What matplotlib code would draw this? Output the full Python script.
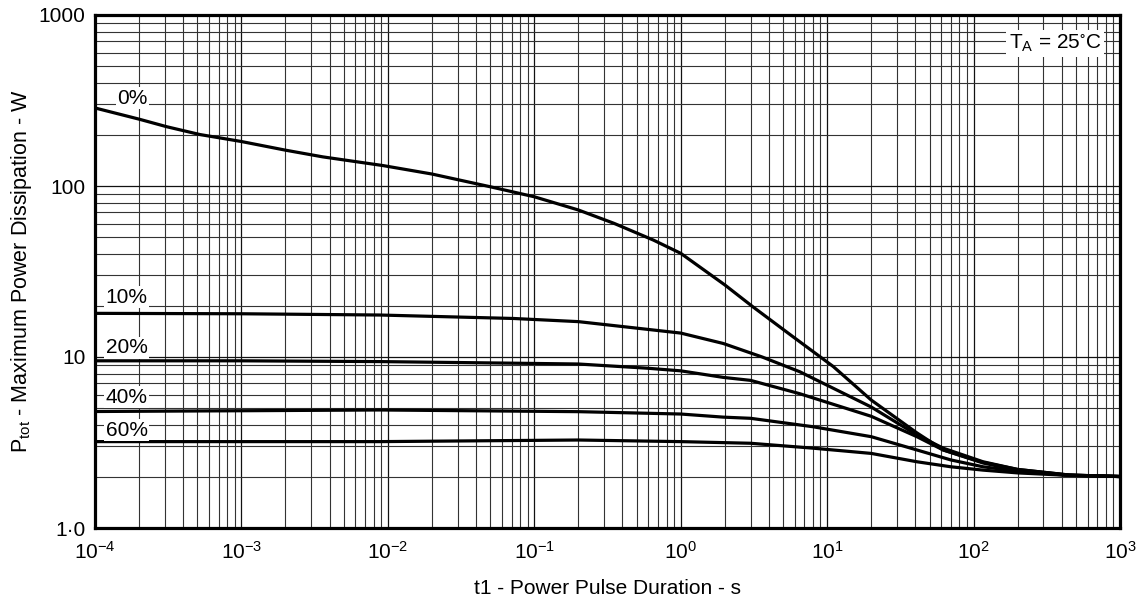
import matplotlib
matplotlib.use("Agg")
import matplotlib.pyplot as plt
from matplotlib.ticker import LogLocator, NullFormatter

plt.rcParams['font.family'] = ['Liberation Sans', 'DejaVu Sans']
plt.rcParams['mathtext.fontset'] = 'custom'
plt.rcParams['mathtext.rm'] = 'Liberation Sans'
plt.rcParams['mathtext.default'] = 'regular'

# ---- data ----
t_0 = [1e-4, 2e-4, 3.1e-4, 5.2e-4, 1e-3, 2e-3, 3.6e-3, 9.3e-3, 0.02, 0.05, 0.1, 0.2, 0.35,
       0.65, 1.0, 2.0, 3.1, 5.8, 11, 20, 41, 62, 116, 198, 435, 1000]
p_0 = [286, 246, 222, 200, 182, 162, 148, 131.6, 117.5, 99, 86.5, 72.4, 60.5,
       48.3, 40.4, 26.4, 19.7, 13.2, 8.8, 5.6, 3.6, 2.86, 2.40, 2.18, 2.04, 2.0]

t_10 = [1e-4, 1e-3, 8.8e-3, 0.072, 0.2, 0.45, 1.0, 1.95, 3.6, 6.5, 20, 41, 62, 116, 200, 450, 1000]
p_10 = [18.0, 17.9, 17.6, 16.8, 16.1, 14.9, 13.8, 12.0, 10.0, 8.2, 5.1, 3.5, 2.93, 2.44, 2.2, 2.04, 2.0]

t_20 = [1e-4, 1e-3, 8.8e-3, 0.072, 0.2, 0.59, 1.0, 1.95, 3.0, 6.5, 20, 41, 62, 116, 200, 450, 1000]
p_20 = [9.5, 9.5, 9.4, 9.2, 9.1, 8.6, 8.3, 7.6, 7.3, 6.1, 4.5, 3.42, 2.86, 2.42, 2.2, 2.04, 2.0]

t_40 = [1e-4, 1e-3, 8.8e-3, 0.2, 1.0, 1.95, 3.0, 8.0, 20, 41, 70, 116, 200, 450, 1000]
p_40 = [4.8, 4.85, 4.9, 4.79, 4.64, 4.45, 4.38, 3.91, 3.42, 2.86, 2.50, 2.28, 2.15, 2.03, 2.0]

t_60 = [1e-4, 1e-3, 8.8e-3, 0.2, 1.0, 3.0, 8.0, 20, 41, 70, 116, 200, 450, 1000]
p_60 = [3.2, 3.2, 3.2, 3.27, 3.2, 3.13, 2.93, 2.73, 2.44, 2.28, 2.18, 2.1, 2.03, 2.0]

series = [(t_0, p_0, '0%'), (t_10, p_10, '10%'), (t_20, p_20, '20%'),
          (t_40, p_40, '40%'), (t_60, p_60, '60%')]

x_ticks = [1e-4, 1e-3, 1e-2, 1e-1, 1, 10, 100, 1000]
x_labels = ['$10^{-4}$', '$10^{-3}$', '$10^{-2}$', '$10^{-1}$', '$10^{0}$', '$10^{1}$', '$10^{2}$', '$10^{3}$']
y_ticks = [1, 10, 100, 1000]
y_labels = ['1·0', '10', '100', '1000']

fig = plt.figure(figsize=(11.43, 6.0), dpi=100)
ax = fig.add_axes([0.0831, 0.12, 0.8968, 0.855])
ax.set_xscale('log')
ax.set_yscale('log')
ax.set_xlim(1e-4, 1e3)
ax.set_ylim(1, 1000)

ax.xaxis.set_minor_locator(LogLocator(base=10, subs=range(2, 10), numticks=50))
ax.yaxis.set_minor_locator(LogLocator(base=10, subs=range(2, 10), numticks=50))
ax.xaxis.set_minor_formatter(NullFormatter())
ax.yaxis.set_minor_formatter(NullFormatter())
ax.grid(True, which='major', color='#111111', lw=0.9)
ax.grid(True, which='minor', color='#333333', lw=0.8)
ax.set_axisbelow(True)

for t, p, lab in series:
    ax.plot(t, p, color='black', lw=2.3, solid_capstyle='butt', zorder=3)

ax.set_xticks(x_ticks)
ax.set_xticklabels(x_labels)
ax.set_yticks(y_ticks)
ax.set_yticklabels(y_labels)
ax.tick_params(which='both', length=0, labelsize=15, pad=7)
ax.tick_params(axis='x', pad=9)

for s in ax.spines.values():
    s.set_linewidth(2.3)
    s.set_zorder(5)

ax.set_xlabel('t1 - Power Pulse Duration - s', fontsize=15, labelpad=12)
ax.set_ylabel('P$_{tot}$ - Maximum Power Dissipation - W', fontsize=15.5, labelpad=3)

box = dict(facecolor='white', edgecolor='none', pad=1.0)
label_pos = {'0%': (1.8e-4, 327), '10%': (1.65e-4, 22.4), '20%': (1.65e-4, 11.3),
             '40%': (1.65e-4, 5.83), '60%': (1.65e-4, 3.74)}
for t, p, lab in series:
    lx, ly = label_pos[lab]
    ax.text(lx, ly, lab, fontsize=15, ha='center', va='center', bbox=box, zorder=4)

ax.text(0.9366, 0.945, 'T$_A$ = 25$^{\\circ}$C', transform=ax.transAxes, fontsize=15,
        ha='center', va='center', bbox=dict(facecolor='white', edgecolor='none', pad=2), zorder=4)

fig.savefig('out.png', dpi=100)
